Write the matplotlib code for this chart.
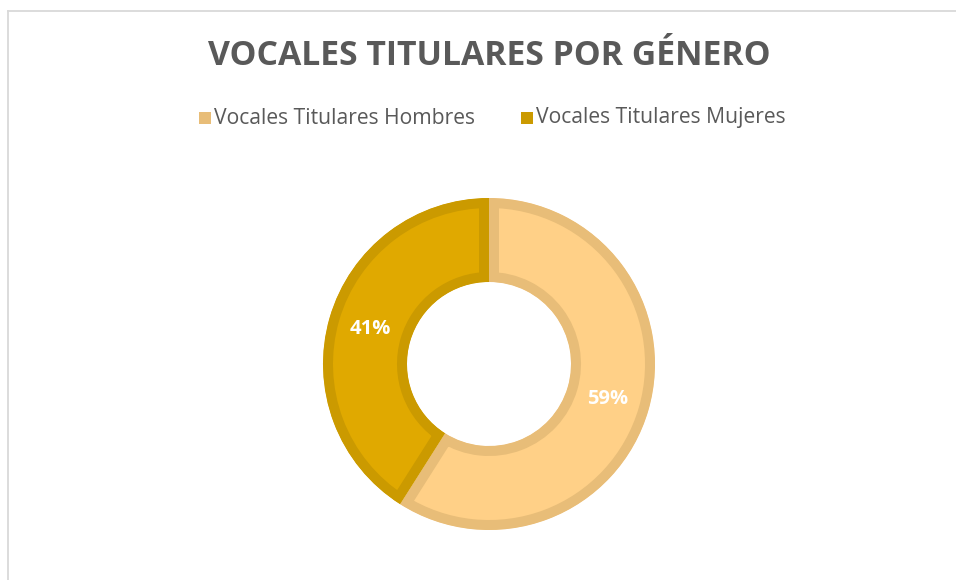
import matplotlib.pyplot as plt
from matplotlib.patches import Rectangle
from matplotlib.lines import Line2D

plt.rcParams['font.family'] = ['Open Sans', 'DejaVu Sans']

labels = ['Vocales Titulares Hombres', 'Vocales Titulares Mujeres']
values = [59, 41]
face_colors = ['#FFD087', '#E0A900']
edge_colors = ['#E8BD78', '#CB9A00']
title = 'VOCALES TITULARES POR GÉNERO'

W, H = 956, 580
fig = plt.figure(figsize=(W / 100, H / 100), dpi=100)
ax = fig.add_axes([0, 0, 1, 1])

# chart area border (only left/top visible in the crop)
ax.add_line(Line2D([8.5, 8.5], [0, H - 10.5], color='#D9D9D9', lw=1.3))
ax.add_line(Line2D([8.5, W], [H - 10.5, H - 10.5], color='#D9D9D9', lw=1.3))

R = 166
hole = 82
wedges, texts, autotexts = ax.pie(
    values, colors=face_colors, startangle=90, counterclock=False,
    center=(489, H - 364), radius=R, frame=True,
    autopct='%.0f%%', pctdistance=(R + hole) / 2 / R,
    wedgeprops=dict(width=R - hole, linewidth=14.4),
    textprops=dict(color='white', fontsize=14.5, fontweight='bold'))
for w, ec in zip(wedges, edge_colors):
    w.set_edgecolor(ec)
    # keep the border inside each segment, like the original
    w.set_clip_path(w)
    w.set_clip_on(True)
ax.set_xlim(0, W)
ax.set_ylim(0, H)
ax.set_aspect('equal')
ax.axis('off')

ax.text(489, H - 56, title, ha='center', va='center', fontsize=24.3,
        fontweight='bold', color='#595959')

# legend
for x, lab, ec in zip([199, 521], labels, edge_colors):
    ax.add_patch(Rectangle((x, H - 124), 12, 12, facecolor=ec, edgecolor='none'))
    ax.text(x + 15, H - 118, lab, ha='left', va='center', fontsize=15.2, color='#595959')

fig.savefig('out.png', dpi=100)
